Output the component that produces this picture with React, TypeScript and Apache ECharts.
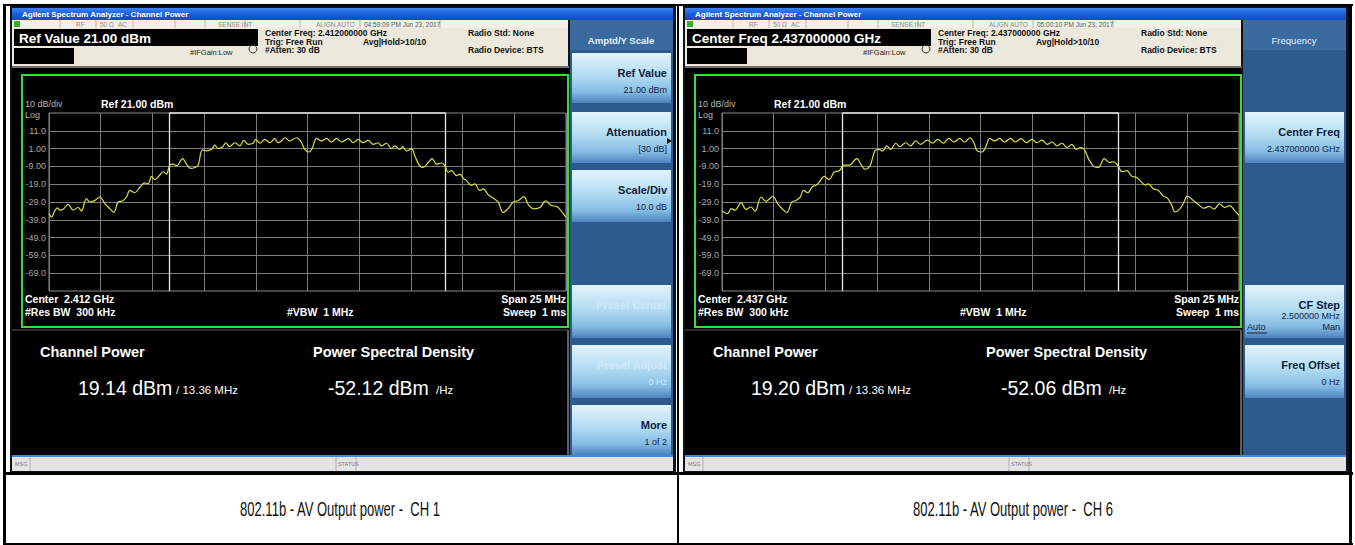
import React, { useEffect, useRef } from "react";
import * as echarts from "echarts";

// ---------- data ----------
// frequency offset from centre, MHz ; level, dBm
const ch1Freq = [
  -12.49, -12.38, -12.22, -12.1, -11.98, -11.82, -11.57, -11.33, -11.09, -10.93,
  -10.69, -10.53, -10.28, -10.04, -9.8, -9.56, -9.37, -9.16, -8.95, -8.75,
  -8.59, -8.35, -8.11, -7.87, -7.71, -7.54, -7.38, -7.14, -6.98, -6.82,
  -6.66, -6.5, -6.33, -6.04, -5.85, -5.66, -5.45, -5.29, -5.08, -4.88,
  -4.64, -4.48, -4.32, -4.11, -3.95, -3.76, -3.51, -3.27, -3.08, -2.87,
  -2.63, -2.5, -2.3, -2.06, -1.82, -1.58, -1.42, -1.26, -1.1, -0.85,
  -0.53, -0.34, -0.13, 0.08, 0.24, 0.44, 0.68, 0.92, 1.16, 1.4,
  1.65, 1.97, 2.21, 2.45, 2.69, 2.93, 3.18, 3.42, 3.58, 3.82,
  4.06, 4.22, 4.47, 4.6, 4.79, 5.03, 5.19, 5.4, 5.59, 5.84,
  6.03, 6.24, 6.48, 6.64, 6.8, 6.96, 7.21, 7.37, 7.53, 7.69,
  7.93, 8.09, 8.33, 8.5, 8.74, 8.98, 9.22, 9.46, 9.7, 9.95,
  10.18, 10.45, 10.71, 10.98, 11.25, 11.52, 11.79, 12.06, 12.32, 12.5,
];
const ch1Level = [
  -35.5, -37.5, -34.0, -32.3, -33.6, -33.1, -30.3, -33.6, -32.1, -34.0,
  -27.1, -29.0, -28.1, -26.2, -29.9, -32.7, -34.9, -29.0, -28.4, -26.2,
  -22.5, -23.8, -20.7, -18.3, -18.8, -14.6, -16.4, -13.8, -12.0, -13.3,
  -8.3, -7.7, -8.6, -4.6, -7.7, -10.1, -9.6, -8.3, 0.3, -0.3,
  0.6, 2.9, 1.0, 1.9, 4.3, 2.1, 4.3, 2.5, 5.6, 3.4,
  4.0, 6.2, 4.0, 6.2, 4.3, 6.6, 4.3, 5.3, 7.1, 5.3,
  7.1, 5.3, 0.6, -0.9, 1.6, 6.7, 5.3, 6.7, 4.7, 6.7,
  4.7, 6.6, 4.3, 6.2, 4.3, 5.6, 3.4, 4.3, 2.5, 4.0,
  1.0, 2.5, 0.6, 2.1, -0.3, 1.0, -3.1, -8.3, -9.6, -6.8,
  -4.6, -7.7, -7.1, -8.6, -12.3, -11.4, -14.2, -13.3, -15.7, -17.0,
  -19.7, -18.8, -22.5, -21.6, -24.9, -26.8, -29.0, -34.9, -32.7, -29.0,
  -28.3, -26.0, -31.0, -32.9, -32.0, -28.3, -31.0, -31.5, -34.8, -37.6,
];
const ch6Freq = [
  -12.5, -12.22, -12.06, -11.87, -11.58, -11.34, -11.1, -10.9, -10.61, -10.37,
  -10.05, -9.81, -9.57, -9.36, -9.13, -8.92, -8.72, -8.56, -8.36, -8.12,
  -7.96, -7.8, -7.56, -7.32, -7.08, -6.83, -6.59, -6.35, -5.98, -5.79,
  -5.6, -5.34, -5.11, -4.9, -4.74, -4.53, -4.34, -4.1, -3.89, -3.62,
  -3.38, -3.14, -2.89, -2.57, -2.33, -2.06, -1.8, -1.53, -1.29, -1.0,
  -0.77, -0.51, -0.32, -0.16, 0.08, 0.24, 0.45, 0.68, 0.93, 1.16,
  1.45, 1.69, 1.96, 2.22, 2.49, 2.73, 2.97, 3.22, 3.46, 3.7,
  3.94, 4.18, 4.42, 4.63, 4.82, 5.02, 5.23, 5.47, 5.71, 5.98,
  6.24, 6.43, 6.67, 6.83, 7.08, 7.32, 7.53, 7.72, 7.96, 8.12,
  8.36, 8.6, 8.84, 9.04, 9.25, 9.41, 9.65, 9.84, 10.0, 10.29,
  10.55, 10.8, 11.05, 11.3, 11.55, 11.8, 12.05, 12.3, 12.5,
];
const ch6Level = [
  -34.0, -35.5, -32.7, -33.6, -29.4, -33.1, -31.8, -34.2, -26.2, -28.6,
  -25.9, -29.9, -33.1, -34.9, -29.0, -28.1, -26.2, -22.5, -23.8, -20.3,
  -19.7, -17.9, -14.6, -16.4, -12.3, -11.4, -8.3, -8.3, -4.6, -7.7,
  -10.5, -8.6, -0.3, 0.6, -0.3, 2.5, 0.6, 4.0, 2.1, 4.3,
  2.5, 5.3, 3.4, 5.8, 4.0, 6.2, 4.0, 6.7, 4.7, 6.7,
  4.7, 7.1, 4.3, -0.3, -0.9, 1.6, 6.7, 5.3, 6.7, 4.7,
  6.7, 4.7, 6.6, 4.3, 6.2, 4.3, 5.8, 3.4, 4.7, 2.5,
  4.0, 1.6, 3.4, 0.6, 1.6, 0.6, -4.9, -9.0, -9.6, -4.6,
  -6.8, -6.4, -9.0, -12.0, -11.4, -14.6, -15.1, -17.0, -19.4, -18.8,
  -21.6, -22.5, -25.7, -26.8, -30.9, -34.6, -32.7, -29.0, -25.7, -28.1,
  -30.5, -32.5, -31.5, -33.0, -30.0, -32.0, -31.0, -34.0, -36.5,
];

const levelTicks = [11, 1, -9, -19, -29, -39, -49, -59, -69];
const levelTickLabels = ["11.0", "1.00", "-9.00", "-19.0", "-29.0", "-39.0", "-49.0", "-59.0", "-69.0"];
const refLevel = 21;
const bottomLevel = -79;
const halfSpan = 12.5;
const divWidth = 2.5;
const channelEdges = [-6.68, 6.68];

const panels = [
  {
    refBox: "Ref Value 21.00 dBm",
    time: "04:59:09 PM Jun 23, 2017",
    cfHeader: "Center Freq: 2.412000000 GHz",
    center: "Center  2.412 GHz",
    chPower: "19.14 dBm",
    psd: "-52.12 dBm",
    caption: "802.11b - AV Output power -  CH 1",
    menu: "Amptd/Y Scale",
    menuBold: true,
    keys: [
      { slot: 0, title: "Ref Value", value: "21.00 dBm" },
      { slot: 1, title: "Attenuation", value: "[30 dB]", arrow: true },
      { slot: 2, title: "Scale/Div", value: "10.0 dB" },
      { slot: 3, title: "Presel Center", value: "", grey: true },
      { slot: 4, title: "Presel Adjust", value: "0 Hz", grey: true },
      { slot: 5, title: "More", value: "1 of 2" },
    ],
  },
  {
    refBox: "Center Freq 2.437000000 GHz",
    time: "05:00:10 PM Jun 23, 2017",
    cfHeader: "Center Freq: 2.437000000 GHz",
    center: "Center  2.437 GHz",
    chPower: "19.20 dBm",
    psd: "-52.06 dBm",
    caption: "802.11b - AV Output power -  CH 6",
    menu: "Frequency",
    menuBold: false,
    keys: [
      { slot: 1, title: "Center Freq", value: "2.437000000 GHz" },
      { slot: 3, title: "CF Step", value: "2.500000 MHz", auto: true },
      { slot: 4, title: "Freq Offset", value: "0 Hz" },
    ],
  },
];

const DX = 673;
const UI = "'Liberation Sans', Arial, sans-serif";
const slotY = [[53, 103], [112, 163], [170, 222], [285, 338], [345, 398], [405, 455]];

function buildPanel(p: any, dx: number) {
  const g: any[] = [];
  const R = (x: number, y: number, w: number, h: number, fill: any, z = -9) =>
    g.push({ type: "rect", silent: true, z, shape: { x: x + dx, y, width: w, height: h }, style: { fill } });
  const L = (x1: number, y1: number, x2: number, y2: number, color: string, w = 1, z = -6) =>
    g.push({ type: "line", silent: true, z, shape: { x1: x1 + dx, y1, x2: x2 + dx, y2 }, style: { stroke: color, lineWidth: w } });
  const T = (x: number, y: number, text: string, size: number, color: string, o: any = {}) =>
    g.push({
      type: "text", silent: true, z: -2, x: x + dx, y, scaleX: o.scaleX || 1,
      style: {
        text, fontSize: size, fill: color, fontFamily: o.family || UI,
        fontWeight: o.bold ? "bold" : "normal",
        align: o.align || "left", textAlign: o.align || "left",
        verticalAlign: "middle", textVerticalAlign: "middle",
      },
    });

  // window
  R(10, 6, 666, 467, "#0e121a", -12);
  R(12, 8, 661, 12, new echarts.graphic.LinearGradient(0, 0, 0, 1, [
    { offset: 0, color: "#3d86f2" }, { offset: 0.5, color: "#1a5fdc" }, { offset: 1, color: "#0b4cc8" },
  ]), -11);
  T(22, 14, "Agilent Spectrum Analyzer - Channel Power", 8, "#ffffff", { bold: true });
  // status row
  R(12, 20, 556, 8, "#f2f0e8", -11);
  R(14, 21, 6, 6, "#2bb52b", -10);
  [60, 96, 133, 175, 205, 245, 300, 360, 440].forEach((x) => L(x, 20, x, 28, "#b8b6ae", 1, -10));
  T(76, 24, "RF", 6.5, "#8a8a8a");
  T(100, 24, "50 Ω", 6.5, "#8a8a8a");
  T(118, 24, "AC", 6.5, "#8a8a8a");
  T(218, 24, "SENSE:INT", 6.5, "#8a8a8a");
  T(316, 24, "ALIGN AUTO", 6.5, "#8a8a8a");
  T(364, 24, p.time, 6.5, "#555555");
  // header
  R(12, 28, 556, 38, "#ece9dc", -11);
  R(14, 29, 244, 17, "#000000", -10);
  R(14, 48, 60, 16, "#000000", -10);
  T(19, 38, p.refBox, 13.5, "#ffffff", { bold: true });
  T(265, 33, p.cfHeader, 8.5, "#111111", { bold: true });
  T(265, 41.5, "Trig: Free Run", 8.5, "#111111", { bold: true });
  T(265, 50, "#Atten: 30 dB", 8.5, "#111111", { bold: true });
  T(363, 41.5, "Avg|Hold>10/10", 8.5, "#111111", { bold: true });
  T(468, 33, "Radio Std: None", 8.5, "#111111", { bold: true });
  T(468, 50, "Radio Device: BTS", 8.5, "#111111", { bold: true });
  T(190, 52, "#IFGain:Low", 7.5, "#222222");
  g.push({ type: "circle", silent: true, z: -9, shape: { cx: 253 + dx, cy: 49, r: 4 }, style: { fill: "none", stroke: "#333", lineWidth: 1 } });
  // screen
  R(12, 66, 557, 390, "#000000", -11);
  L(12, 67, 569, 67, "#6d6d6d", 2);
  g.push({ type: "rect", silent: true, z: -7, shape: { x: 22 + dx, y: 75, width: 546, height: 252 }, style: { fill: "none", stroke: "#33e033", lineWidth: 2 } });
  L(568, 330, 568, 455, "#bdbdbd", 1);
  L(12, 330, 568, 330, "#555555", 1);
  T(25, 104, "10 dB/div", 9, "#b5b5b5");
  T(101, 104, "Ref 21.00 dBm", 10.5, "#ffffff", { bold: true });
  T(25, 115, "Log", 9, "#b5b5b5");
  T(25, 299, p.center, 10.5, "#ffffff", { bold: true });
  T(25, 312, "#Res BW  300 kHz", 10.5, "#ffffff", { bold: true });
  T(287, 312, "#VBW  1 MHz", 10.5, "#ffffff", { bold: true });
  T(566, 299, "Span 25 MHz", 10.5, "#ffffff", { bold: true, align: "right" });
  T(566, 312, "Sweep  1 ms", 10.5, "#ffffff", { bold: true, align: "right" });
  T(40, 352, "Channel Power", 14.5, "#ffffff", { bold: true });
  T(313, 352, "Power Spectral Density", 14.5, "#ffffff", { bold: true });
  T(78, 388, p.chPower, 19.5, "#ffffff");
  T(176, 390, "/ 13.36 MHz", 11.5, "#ffffff");
  T(328, 388, p.psd, 19.5, "#ffffff");
  T(436, 390, "/Hz", 11.5, "#ffffff");
  // msg bar
  R(12, 455, 661, 2, "#4a86d6", -10);
  R(12, 457, 661, 14, "#e4e4e4", -10);
  L(30, 457, 30, 471, "#b0b0b0", 1, -9);
  L(336, 457, 336, 471, "#b0b0b0", 1, -9);
  L(356, 457, 356, 471, "#b0b0b0", 1, -9);
  T(15, 464, "MSG", 5.5, "#7a7a7a");
  T(338, 464, "STATUS", 5.5, "#7a7a7a");
  // softkey panel
  R(570, 20, 103, 436, "#2d5b8d", -11);
  R(570, 20, 103, 30, "#3a6a9e", -10);
  T(621, 40, p.menu, 9.5, "#e8f1fa", { bold: p.menuBold, align: "center" });
  const btnGrad = () => new echarts.graphic.LinearGradient(0, 0, 0, 1, [
    { offset: 0, color: "#e3f3fc" }, { offset: 0.45, color: "#b3dcf3" },
    { offset: 0.78, color: "#85bce4" }, { offset: 1, color: "#4d82bb" },
  ]);
  p.keys.forEach((k: any) => {
    const [y0, y1] = slotY[k.slot];
    R(572, y0, 99, y1 - y0, btnGrad(), -10);
    const tc = k.grey ? "#d2e8f6" : "#0c1d3b";
    T(667, y0 + 20, k.title, 11, tc, { bold: true, align: "right" });
    if (k.value) T(667, y0 + (k.auto ? 31 : 37), k.value, 9, k.grey ? "#d2e8f6" : "#13233f", { align: "right" });
    if (k.arrow) g.push({ type: "polygon", silent: true, z: -2, shape: { points: [[667 + dx, y0 + 26], [672 + dx, y0 + 29], [667 + dx, y0 + 32]] }, style: { fill: "#111" } });
    if (k.auto) {
      T(574, y0 + 42, "Auto", 9, "#13233f");
      L(574, y0 + 48, 594, y0 + 48, "#13233f", 1, -1);
      T(667, y0 + 42, "Man", 9, "#13233f", { align: "right" });
    }
  });
  // caption (condensed face)
  T(340, 509, p.caption, 21, "#111111", { align: "center", scaleX: 0.62 });
  return g;
}

function tableLines() {
  const g: any[] = [];
  const R = (x: number, y: number, w: number, h: number) =>
    g.push({ type: "rect", silent: true, z: -8, shape: { x, y, width: w, height: h }, style: { fill: "#000" } });
  R(3, 4, 1350, 2);
  R(3, 4, 3, 541);
  R(1349, 4, 3, 541);
  R(677, 4, 2, 541);
  R(3, 472, 1350, 3);
  R(3, 543, 1350, 2);
  return g;
}

function seriesFor(i: number, freq: number[], level: number[]) {
  const data = freq.map((f, k) => [f, level[k]]);
  return {
    type: "line",
    xAxisIndex: i,
    yAxisIndex: i,
    data,
    showSymbol: false,
    smooth: 0.35,
    lineStyle: { color: "#dcdc45", width: 1.2 },
    z: 5,
    markLine: {
      silent: true,
      symbol: ["none", "none"],
      animation: false,
      lineStyle: { color: "#7c7c7c", width: 1, type: "solid" },
      label: { show: true, position: "start", color: "#a8a8a8", fontSize: 9, fontFamily: UI, distance: 3 },
      data: [
        ...levelTicks.map((v, k) => ({ yAxis: v, label: { formatter: levelTickLabels[k] } })),
        ...channelEdges.map((e) => ({ xAxis: e, label: { show: false }, lineStyle: { color: "#e8e8e8", width: 1.3, type: "solid" } })),
        [
          { coord: [channelEdges[0], refLevel], label: { show: false }, lineStyle: { color: "#e8e8e8", width: 1.5, type: "solid" } },
          { coord: [channelEdges[1], refLevel] },
        ],
      ],
    },
  };
}

export default function App() {
  const ref = useRef<HTMLDivElement>(null);
  useEffect(() => {
    document.body.style.margin = "0";
    const chart = echarts.init(ref.current!, null, { renderer: "svg" });
    const grids = [0, 1].map((i) => ({
      left: 49 + i * DX, top: 113, width: 517, height: 178,
      show: true, borderColor: "#8a8a8a", borderWidth: 1, backgroundColor: "transparent",
    }));
    const xAxes = [0, 1].map((i) => ({
      type: "value", gridIndex: i, min: -halfSpan, max: halfSpan, interval: divWidth,
      axisLine: { show: false }, axisTick: { show: false }, axisLabel: { show: false },
      splitLine: { show: true, lineStyle: { color: "#7c7c7c", width: 1 } },
    }));
    const yAxes = [0, 1].map((i) => ({
      type: "value", gridIndex: i, min: bottomLevel, max: refLevel,
      axisLine: { show: false }, axisTick: { show: false }, axisLabel: { show: false },
      splitLine: { show: false },
    }));
    chart.setOption({
      animation: false,
      backgroundColor: "#ffffff",
      grid: grids,
      xAxis: xAxes,
      yAxis: yAxes,
      series: [seriesFor(0, ch1Freq, ch1Level), seriesFor(1, ch6Freq, ch6Level)],
      graphic: { elements: [...buildPanel(panels[0], 0), ...buildPanel(panels[1], DX), ...tableLines()] },
    });
    return () => chart.dispose();
  }, []);
  return <div ref={ref} style={{ width: 1355, height: 545, position: "absolute", left: 0, top: 0 }} />;
}
